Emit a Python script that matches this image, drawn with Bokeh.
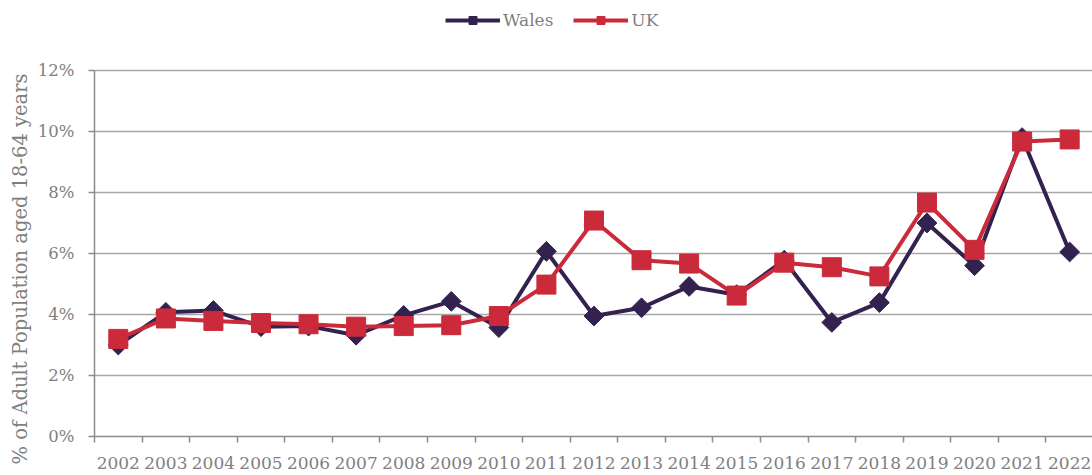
import math
from bokeh.plotting import figure
from bokeh.models import FixedTicker, Legend, LegendItem, Range1d, Title
from bokeh.embed import file_html
from bokeh.resources import INLINE

years = [str(y) for y in range(2002, 2023)]
wales = [3.0, 4.07, 4.13, 3.6, 3.62, 3.32, 3.97, 4.43, 3.57, 6.07, 3.95, 4.22, 4.92, 4.65, 5.78, 3.74, 4.39, 7.0, 5.6, 9.8, 6.05]
uk = [3.2, 3.87, 3.79, 3.72, 3.68, 3.6, 3.62, 3.65, 3.95, 4.98, 7.08, 5.78, 5.67, 4.62, 5.7, 5.55, 5.25, 7.67, 6.12, 9.67, 9.74]
y_ticks = [0, 2, 4, 6, 8, 10, 12]
y_tick_labels = ["0%", "2%", "4%", "6%", "8%", "10%", "12%"]
y_title = "% of Adult Population aged 18-64 years"

WALES_C = "#33224f"
UK_C = "#cb2a3b"
GRAY = "#7f7f7f"
AXIS_C = "#8c8c8c"
FONT = "DejaVu Serif"

x = list(range(len(years)))

# frame: top of canvas to y=436; 12% sits at y=70
p = figure(width=1092, height=475, output_backend="svg", toolbar_location=None,
           x_range=Range1d(-0.5, 20.48), y_range=Range1d(0, 12 + 70 / 30.5),
           min_border_left=94, min_border_top=0, min_border_bottom=39, min_border_right=0)
p.outline_line_color = None
p.background_fill_color = "white"
p.title.visible = False

# x axis
p.xaxis.ticker = FixedTicker(ticks=x, minor_ticks=[i - 0.5 for i in range(len(years) + 1)])
p.xaxis.major_label_overrides = {i: years[i] for i in x}
p.xaxis.major_tick_line_color = None
p.xaxis.major_tick_out = 0
p.xaxis.major_tick_in = 0
p.xaxis.minor_tick_out = 6
p.xaxis.minor_tick_in = 0
p.xaxis.minor_tick_line_color = AXIS_C
p.xaxis.minor_tick_line_width = 1.5
p.xaxis.major_label_standoff = 14
p.xaxis.axis_line_color = AXIS_C
p.xaxis.axis_line_width = 1.5
p.xaxis.major_label_text_font = FONT
p.xaxis.major_label_text_font_size = "17px"
p.xaxis.major_label_text_color = GRAY
p.xgrid.grid_line_color = None

# y axis
p.yaxis.bounds = (0, 12)
p.yaxis.ticker = FixedTicker(ticks=y_ticks, minor_ticks=[])
p.yaxis.major_label_overrides = {t: l for t, l in zip(y_ticks, y_tick_labels)}
p.yaxis.major_tick_out = 6
p.yaxis.major_tick_in = 0
p.yaxis.major_tick_line_color = AXIS_C
p.yaxis.major_tick_line_width = 1.5
p.yaxis.minor_tick_line_color = None
p.yaxis.major_label_standoff = 14
p.yaxis.axis_line_color = AXIS_C
p.yaxis.axis_line_width = 1.5
p.yaxis.major_label_text_font = FONT
p.yaxis.major_label_text_font_size = "16.5px"
p.yaxis.major_label_text_color = GRAY
p.ygrid.grid_line_color = "#a6a6a6"
p.ygrid.grid_line_width = 1.5

# y axis title as a side title, anchored near the bottom like the original
ytitle = Title(text=y_title, align="left", offset=-28,
               text_font=FONT, text_font_size="19.5px", text_font_style="normal",
               text_color=GRAY, standoff=6)
p.add_layout(ytitle, "left")

wl = p.line(x, wales, line_color=WALES_C, line_width=4)
ws = p.scatter(x, wales, marker="square", angle=math.pi / 4, size=14,
               fill_color=WALES_C, line_color=WALES_C)
ul = p.line(x, uk, line_color=UK_C, line_width=4)
us = p.scatter(x, uk, marker="square", size=19, fill_color=UK_C, line_color=UK_C)

legend = Legend(items=[LegendItem(label="Wales", renderers=[wl, ws]),
                       LegendItem(label="UK", renderers=[ul, us])],
                orientation="horizontal", location=(351, 406),
                glyph_width=55, glyph_height=20, label_height=20,
                label_standoff=3, spacing=20,
                padding=0, margin=0, border_line_color=None,
                background_fill_alpha=0,
                label_text_font=FONT, label_text_font_size="17px",
                label_text_color=GRAY)
p.add_layout(legend, "center")

open("out.html", "w").write(file_html(p, INLINE))
